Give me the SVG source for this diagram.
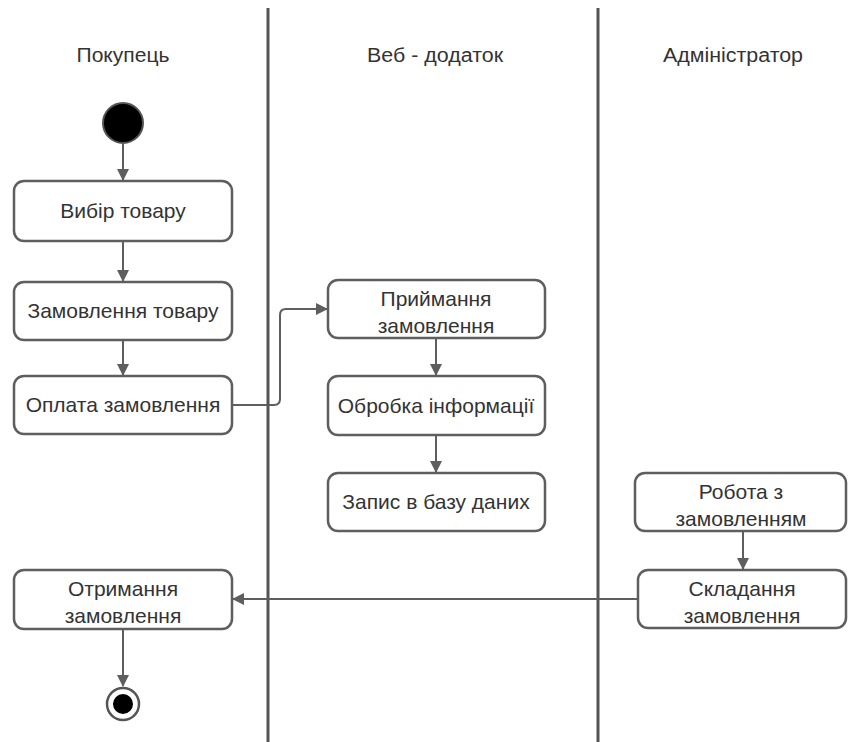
<svg xmlns="http://www.w3.org/2000/svg" width="849" height="742" viewBox="0 0 849 742">
<style>
.lane{stroke:#555;stroke-width:3;fill:none}
.box{fill:#fff;stroke:#5e5e5e;stroke-width:2.5}
.t{font-family:"Liberation Sans",Arial,sans-serif;font-size:21px;fill:#333;text-anchor:middle}
.h{font-family:"Liberation Sans",Arial,sans-serif;font-size:20px;fill:#333;text-anchor:middle}
.c{stroke:#5e5e5e;stroke-width:2;fill:none;marker-end:url(#ah)}
</style>
<defs>
<marker id="ah" markerWidth="12" markerHeight="12" refX="11" refY="6" orient="auto" markerUnits="userSpaceOnUse">
<path d="M0,0 L12,6 L0,12 Z" fill="#5e5e5e"/>
</marker>
</defs>
<rect width="849" height="742" fill="#fff"/>
<g id="lanes">
<line class="lane" x1="268" y1="8" x2="268" y2="742"/>
<line class="lane" x1="598" y1="8" x2="598" y2="742"/>
<text class="h" x="123" y="62" textLength="93" lengthAdjust="spacingAndGlyphs">Покупець</text>
<text class="h" x="435" y="62" textLength="136" lengthAdjust="spacingAndGlyphs">Веб - додаток</text>
<text class="h" x="733" y="62" textLength="140" lengthAdjust="spacingAndGlyphs">Адміністратор</text>
</g>
<g id="connectors">
<line class="c" x1="123" y1="144" x2="123" y2="180"/>
<line class="c" x1="123" y1="242" x2="123" y2="281"/>
<line class="c" x1="123" y1="340" x2="123" y2="375"/>
<path class="c" d="M232,405 H274 Q280,405 280,399 V315 Q280,309 286,309 H327"/>
<line class="c" x1="436" y1="338" x2="436" y2="375"/>
<line class="c" x1="436" y1="435" x2="436" y2="472"/>
<line class="c" x1="743" y1="531" x2="743" y2="569"/>
<line class="c" x1="638" y1="599" x2="233" y2="599"/>
<line class="c" x1="123" y1="629" x2="123" y2="686"/>
</g>
<g id="start"><circle cx="123" cy="123" r="20" fill="#000" stroke="#555" stroke-width="2"/></g>
<g id="n1"><rect class="box" x="14" y="181" width="218" height="60" rx="10"/><text class="t" x="123" y="218">Вибір товару</text></g>
<g id="n2"><rect class="box" x="14" y="282" width="218" height="58" rx="10"/><text class="t" x="123" y="318">Замовлення товару</text></g>
<g id="n3"><rect class="box" x="14" y="376" width="218" height="58" rx="10"/><text class="t" x="123" y="412">Оплата замовлення</text></g>
<g id="n4"><rect class="box" x="328" y="280" width="217" height="58" rx="10"/><text class="t" x="436" y="306">Приймання</text><text class="t" x="436" y="333">замовлення</text></g>
<g id="n5"><rect class="box" x="328" y="376" width="217" height="59" rx="10"/><text class="t" x="436" y="413">Обробка інформації</text></g>
<g id="n6"><rect class="box" x="328" y="473" width="217" height="58" rx="10"/><text class="t" x="436" y="509">Запис в базу даних</text></g>
<g id="n7"><rect class="box" x="635" y="473" width="211" height="58" rx="10"/><text class="t" x="741" y="499">Робота з</text><text class="t" x="741" y="526">замовленням</text></g>
<g id="n8"><rect class="box" x="638" y="570" width="208" height="58" rx="10"/><text class="t" x="742" y="596">Складання</text><text class="t" x="742" y="623">замовлення</text></g>
<g id="n9"><rect class="box" x="14" y="570" width="218" height="59" rx="10"/><text class="t" x="123" y="596">Отримання</text><text class="t" x="123" y="623">замовлення</text></g>
<g id="end"><circle cx="123" cy="704" r="16" fill="#fff" stroke="#555" stroke-width="2.5"/><circle cx="123" cy="704" r="10" fill="#000"/></g>
</svg>
